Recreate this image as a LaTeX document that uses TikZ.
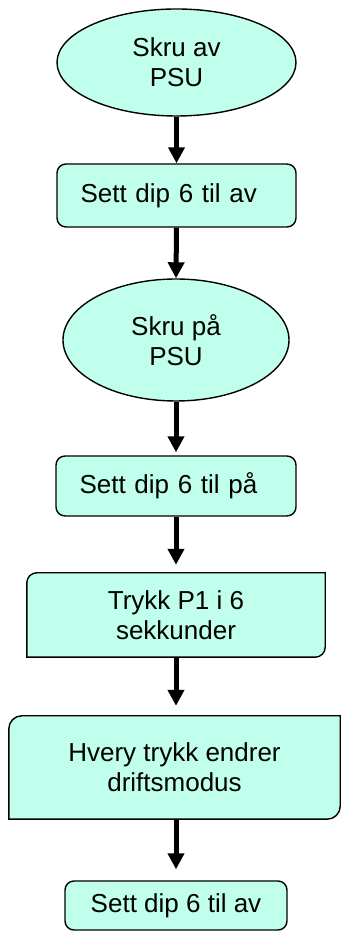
\documentclass[tikz,border=0pt]{standalone}
\usepackage{fontspec}
\setmainfont{Liberation Sans}
\usetikzlibrary{arrows.meta,shapes.geometric,backgrounds}

\definecolor{psufill}{RGB}{192,255,236}

\begin{document}
\begin{tikzpicture}[x=1pt,y=1pt,>={Triangle[length=16pt,width=16pt]},
  flow/.style={draw=black,line width=1.4pt,fill=psufill,font=\fontsize{26}{30}\selectfont,align=center,inner sep=0pt},
  startend/.style={flow,ellipse},
  stepbox/.style={flow,rounded corners=9pt},
  manualbox/.style={draw=none,fill=none,font=\fontsize{26}{30}\selectfont,align=center,inner sep=0pt},
  link/.style={->,line width=5pt}]
\useasboundingbox (0,0) rectangle (341,932);
\node[startend,minimum width=239pt,minimum height=107pt] (skru_av) at (176.5,869.5) {Skru av\\PSU};
\node[stepbox,minimum height=63pt,text width=192pt,inner xsep=23.5pt,align=left] (dip_av) at (176.5,736.5) {Sett dip 6 til av};
\node[startend,minimum width=226pt,minimum height=122pt] (skru_paa) at (176,592) {Skru på\\PSU};
\node[stepbox,minimum height=60pt,text width=193pt,inner xsep=23.5pt,align=left] (dip_paa) at (176,446) {Sett dip 6 til på};
\node[manualbox,minimum width=298pt,minimum height=84pt] (trykk) at (176,317) {Trykk P1 i 6\\sekkunder};
\node[manualbox,minimum width=331pt,minimum height=103pt] (modus) at (174.5,164.5) {Hvery trykk endrer\\driftsmodus};
\node[stepbox,minimum width=222pt,minimum height=49pt] (dip_av2) at (176,26.5) {Sett dip 6 til av};
% boxes with two rounded corners
\begin{scope}[on background layer]
\foreach \b/\r in {trykk/10pt,modus/13pt}
  \draw[line width=1.4pt,fill=psufill] (\b.north east) -- ([xshift=\r]\b.north west)
    arc[start angle=90,end angle=180,radius=\r] -- (\b.south west)
    -- ([xshift=-\r]\b.south east) arc[start angle=270,end angle=360,radius=\r] -- cycle;
\end{scope}
\draw[link] (skru_av.south) -- (dip_av.north);
\draw[link] (dip_av.south) -- (skru_paa.north);
\draw[link,shorten >=3pt] (skru_paa.south) -- (dip_paa.north);
\draw[link,shorten >=8pt] (dip_paa.south) -- (trykk.north);
\draw[link,shorten >=10pt] (trykk.south) -- (trykk.south |- modus.north);
\draw[link,shorten >=11pt] (modus.south -| dip_av2.north) -- (dip_av2.north);
\end{tikzpicture}
\end{document}
